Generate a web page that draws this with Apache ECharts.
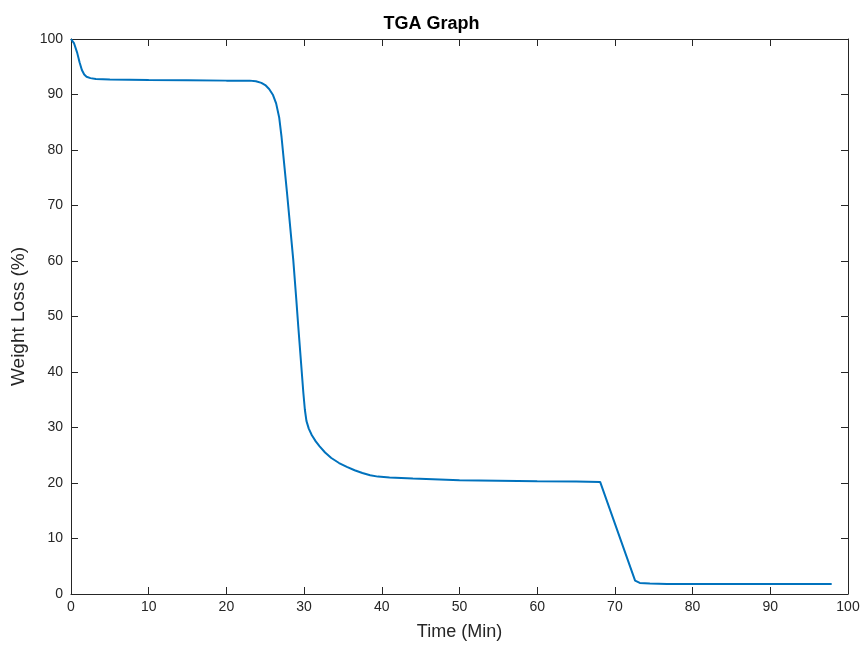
<!DOCTYPE html>
<html>
<head>
<meta charset="utf-8">
<script src="https://cdn.jsdelivr.net/npm/echarts@6/dist/echarts.min.js"></script>
<style>html,body{margin:0;padding:0;background:#fff}#c{width:863px;height:646px}</style>
</head>
<body>
<div id="c"></div>
<script>
const timeMin = [0,0.4,0.8,1.1,1.4,1.7,2.0,2.5,3.2,5,10,15,20,23.0,23.8,24.5,25.0,25.5,26.0,26.4,26.8,27.1,27.4,27.8,28.2,28.6,29.0,29.25,29.6,29.9,30.1,30.3,30.6,31.0,31.5,32.0,32.7,33.5,34.5,35.5,36.5,37.5,38.5,39.5,41,44,50,55,60,65,68.1,72.6,73.2,74.5,76.7,85,90,97.9];
const weightLoss = [100,99.2,97.5,95.8,94.4,93.6,93.2,92.95,92.8,92.7,92.6,92.55,92.5,92.5,92.4,92.1,91.7,91.0,89.9,88.4,85.8,82.3,78.0,72.3,66.3,60.3,53,48.2,41.8,36.3,33.2,31.2,29.8,28.6,27.5,26.6,25.5,24.5,23.6,22.9,22.3,21.8,21.4,21.15,21.0,20.8,20.5,20.4,20.3,20.25,20.2,2.4,2.0,1.9,1.8,1.8,1.8,1.8];
const xTicks = [0,10,20,30,40,50,60,70,80,90,100];
const yTicks = [0,10,20,30,40,50,60,70,80,90,100];

const font = 'Liberation Sans, Arial, Helvetica, sans-serif';
const axisColor = '#262626';
const chart = echarts.init(document.getElementById('c'));
const baseAxis = {
  min: 0, max: 100, interval: 10,
  axisLine: {show: true, onZero: false, lineStyle: {color: axisColor, width: 1}},
  axisTick: {show: true, inside: true, length: 7, lineStyle: {color: axisColor}},
  splitLine: {show: false}
};
chart.setOption({
  animation: false,
  title: {text: 'TGA Graph', left: 'center', top: 10,
    textStyle: {fontFamily: font, fontSize: 18, fontWeight: 'bold', color: '#000'}},
  grid: {left: 71, right: 15, top: 39, bottom: 51},
  xAxis: [
    Object.assign({}, baseAxis, {type: 'value', position: 'bottom', name: 'Time (Min)', nameLocation: 'middle', nameGap: 29,
      nameTextStyle: {fontFamily: font, fontSize: 18, color: axisColor},
      axisLabel: {fontFamily: font, fontSize: 14, color: axisColor, margin: 6,
        formatter: v => xTicks.includes(v) ? String(v) : ''}}),
    Object.assign({}, baseAxis, {type: 'value', position: 'top', axisLabel: {show: false}})
  ],
  yAxis: [
    Object.assign({}, baseAxis, {type: 'value', position: 'left', name: 'Weight Loss (%)', nameLocation: 'middle', nameGap: 39,
      nameTextStyle: {fontFamily: font, fontSize: 19, color: axisColor},
      axisLabel: {fontFamily: font, fontSize: 14, color: axisColor, margin: 8,
        formatter: v => yTicks.includes(v) ? String(v) : ''}}),
    Object.assign({}, baseAxis, {type: 'value', position: 'right', axisLabel: {show: false}})
  ],
  series: [{
    type: 'line',
    data: timeMin.map((t, i) => [t, weightLoss[i]]),
    showSymbol: false,
    smooth: false,
    lineStyle: {color: '#0072BD', width: 2},
    clip: true
  }]
});
</script>
</body>
</html>
